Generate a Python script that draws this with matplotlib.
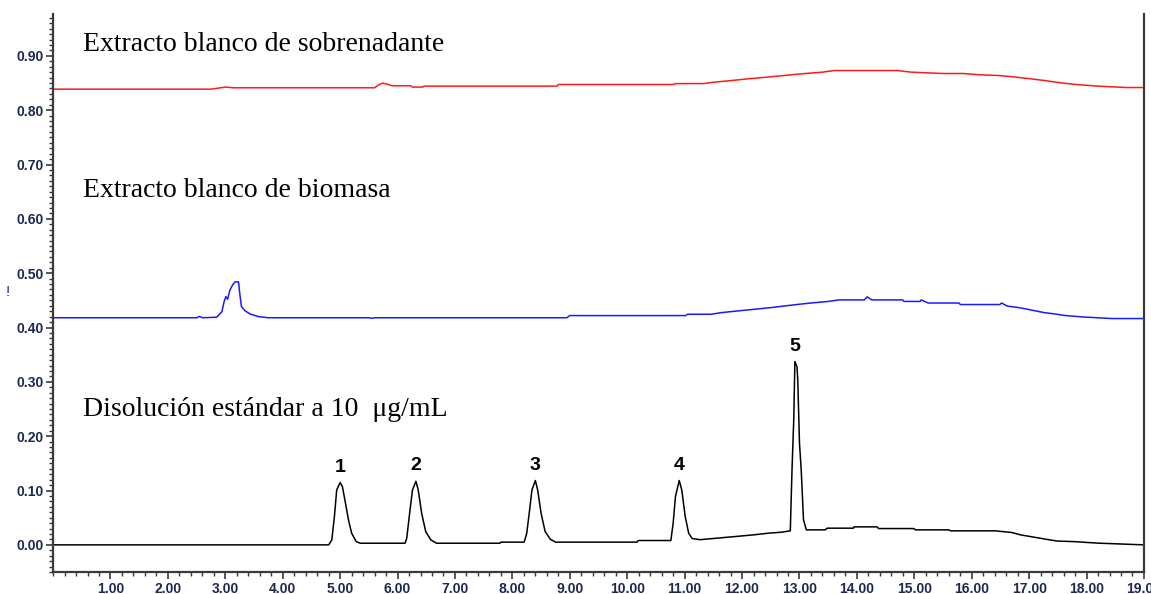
import numpy as np
import matplotlib.pyplot as plt
from matplotlib.ticker import MultipleLocator, FormatStrFormatter

# Chromatogram traces (time in min, absorbance in AU)
sobrenadante_t = [0.0, 2.75, 3.0, 3.15, 5.60, 5.67, 5.74, 5.82, 5.90, 6.23, 6.26, 6.44,
                  6.46, 8.78, 8.80, 10.81, 10.84, 11.34, 11.52, 11.82, 12.10, 12.36,
                  12.62, 12.85, 13.10, 13.40, 13.60, 14.70, 14.95, 15.50, 15.85, 16.15,
                  16.48, 16.72, 16.98, 17.27, 17.55, 17.82, 18.20, 18.70, 19.0]
sobrenadante_y = [0.8387, 0.8387, 0.8425, 0.8412, 0.8412, 0.8467, 0.8498, 0.848, 0.845,
                  0.845, 0.8425, 0.8425, 0.8443, 0.8443, 0.8473, 0.8473, 0.849, 0.849,
                  0.8517, 0.8546, 0.8577, 0.8601, 0.8627, 0.8651, 0.8675, 0.870, 0.873,
                  0.873, 0.870, 0.8675, 0.8675, 0.8651, 0.8638, 0.8614, 0.8583, 0.8546,
                  0.8504, 0.8472, 0.8443, 0.8417, 0.8417]

biomasa_t = [0.0, 2.50, 2.55, 2.60, 2.85, 2.94, 2.98, 3.01, 3.04, 3.08, 3.13, 3.17,
             3.23, 3.25, 3.28, 3.34, 3.43, 3.58, 3.75, 5.50, 5.55, 5.60, 8.95, 9.0,
             11.02, 11.05, 11.46, 11.63, 11.95, 12.23, 12.49, 12.72, 12.95, 13.20,
             13.50, 13.69, 14.13, 14.18, 14.26, 14.80, 14.82, 15.10, 15.12, 15.24,
             15.78, 15.80, 16.49, 16.52, 16.62, 16.83, 17.03, 17.27, 17.44, 17.61,
             17.94, 18.45, 19.0]
biomasa_y = [0.418, 0.418, 0.4205, 0.418, 0.419, 0.429, 0.448, 0.457, 0.452, 0.469,
             0.479, 0.484, 0.484, 0.464, 0.439, 0.431, 0.425, 0.420, 0.418, 0.418,
             0.417, 0.418, 0.418, 0.422, 0.422, 0.4244, 0.4244, 0.4273, 0.4308,
             0.4337, 0.4365, 0.4394, 0.4423, 0.4451, 0.448, 0.4508, 0.4508, 0.4565,
             0.4508, 0.4508, 0.448, 0.448, 0.4508, 0.4451, 0.4451, 0.4423, 0.4423,
             0.4451, 0.4394, 0.4365, 0.4323, 0.4273, 0.4251, 0.4223, 0.4194, 0.4165,
             0.4165]

estandar_t = [0.0, 4.80, 4.855, 4.90, 4.94, 5.00, 5.04, 5.087, 5.145, 5.20, 5.28, 5.35,
              6.13, 6.16, 6.21, 6.26, 6.32, 6.36, 6.42, 6.49, 6.58, 6.68, 7.78, 7.80,
              8.205, 8.25, 8.30, 8.34, 8.40, 8.44, 8.50, 8.57, 8.66, 8.75, 10.17, 10.19,
              10.76, 10.80, 10.84, 10.906, 10.95, 11.01, 11.07, 11.13, 11.27, 11.56,
              11.88, 12.20, 12.46, 12.69, 12.84, 12.87, 12.90, 12.92, 12.956, 12.97,
              13.00, 13.03, 13.07, 13.12, 13.45, 13.48, 13.94, 13.95, 14.35, 14.38,
              14.99, 15.02, 15.60, 15.63, 16.41, 16.70, 16.85, 17.02, 17.31, 17.49,
              17.77, 18.21, 19.0]
estandar_y = [0.0, 0.0, 0.009, 0.052, 0.101, 0.1147, 0.107, 0.080, 0.046, 0.0215, 0.006,
              0.003, 0.003, 0.0123, 0.058, 0.101, 0.117, 0.101, 0.058, 0.0245, 0.009,
              0.003, 0.003, 0.005, 0.005, 0.0215, 0.0644, 0.101, 0.1184, 0.101, 0.058,
              0.0245, 0.0104, 0.005, 0.005, 0.008, 0.008, 0.040, 0.089, 0.1184, 0.101,
              0.052, 0.0215, 0.0117, 0.0095, 0.0123, 0.0153, 0.0184, 0.0215, 0.0233,
              0.0258, 0.138, 0.230, 0.3374, 0.328, 0.304, 0.187, 0.138, 0.046, 0.0276,
              0.0276, 0.0307, 0.0307, 0.0331, 0.0331, 0.030, 0.030, 0.0276, 0.0276,
              0.0258, 0.0258, 0.0227, 0.0184, 0.0153, 0.010, 0.007, 0.006, 0.0031, 0.0]

# peak numbers and their retention times
peak_labels = ["1", "2", "3", "4", "5"]
peak_times = [5.00, 6.32, 8.40, 10.906, 12.92]

fig = plt.figure(figsize=(11.51, 5.94), dpi=100)
ax = fig.add_axes([0.0461, 0.037, 0.9478, 0.9394])

ax.plot(sobrenadante_t, sobrenadante_y, color="#ff1a1a", lw=1.1)
ax.plot(biomasa_t, biomasa_y, color="#1a1aff", lw=1.1)
ax.plot(estandar_t, estandar_y, color="black", lw=1.1)

# number each peak just above its top
for lab, t in zip(peak_labels, peak_times):
    top = np.interp(t, estandar_t, estandar_y)
    ax.annotate(lab, (t, top), xytext=(0, 5), textcoords="offset points",
                ha="center", va="bottom", fontsize=14, fontweight="bold",
                family="Liberation Sans")

serif = dict(family="Liberation Serif", fontsize=20, color="black")
ax.text(0.52, 0.9093, "Extracto blanco de sobrenadante", **serif)
ax.text(0.52, 0.641, "Extracto blanco de biomasa", **serif)
ax.text(0.52, 0.2374, "Disolución estándar a 10  μg/mL", **serif)

ax.set_xlim(0, 19)
ax.set_ylim(-0.05, 0.977)
ax.xaxis.set_minor_locator(MultipleLocator(0.2))
ax.yaxis.set_minor_locator(MultipleLocator(0.01))
ax.xaxis.set_major_formatter(FormatStrFormatter("%.2f"))
ax.yaxis.set_major_formatter(FormatStrFormatter("%.2f"))
ax.set_xticks(np.arange(1, 20, 1))
ax.set_yticks(np.arange(0, 0.95, 0.1))

ax.spines["top"].set_visible(False)
for s in ["left", "bottom", "right"]:
    ax.spines[s].set_color("#3a3a3a")
    ax.spines[s].set_linewidth(1.6)

ax.tick_params(which="major", length=5, width=1.2, color="#3a3a3a",
               labelsize=10, labelcolor="#1c2850", pad=2)
ax.tick_params(which="minor", length=3, width=1.0, color="#3a3a3a")
for lbl in ax.get_xticklabels() + ax.get_yticklabels():
    lbl.set_family("Liberation Sans")
    lbl.set_fontweight("bold")

# small stray mark left of the axis in the original
fig.text(0.005, 0.502, "!", fontsize=11, color="#202080", family="Liberation Sans")

fig.savefig("out.png", dpi=100)
